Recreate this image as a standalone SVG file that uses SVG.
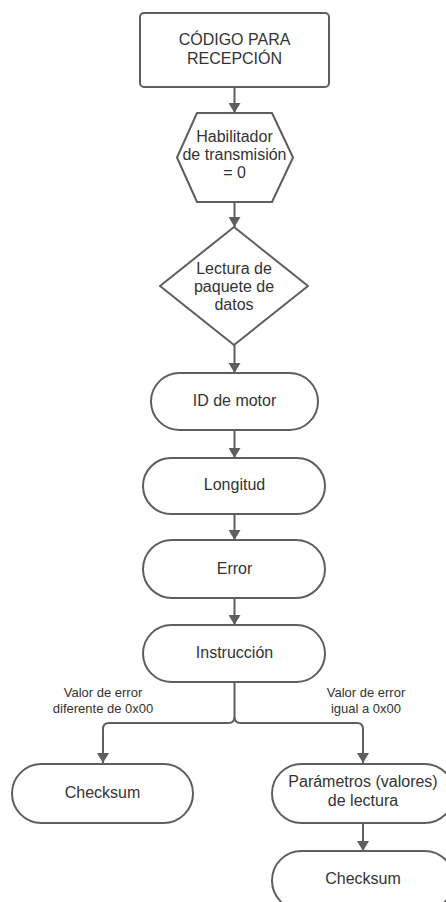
<svg xmlns="http://www.w3.org/2000/svg" width="446" height="902" viewBox="0 0 446 902">
  <defs>
    <marker id="arrow" viewBox="0 0 10 12" refX="10" refY="6" markerWidth="10" markerHeight="12" markerUnits="userSpaceOnUse" orient="auto">
      <path d="M0,0 L10,6 L0,12 Z" fill="#5e5e5e"/>
    </marker>
    <style>
      .shape { fill: #ffffff; stroke: #5e5e5e; stroke-width: 2; stroke-linejoin: round; }
      .edge { fill: none; stroke: #5e5e5e; stroke-width: 2; marker-end: url(#arrow); }
      .line { fill: none; stroke: #5e5e5e; stroke-width: 2; }
      .txt { font-family: "Liberation Sans", Arial, sans-serif; font-size: 16px; fill: #333333; text-anchor: middle; }
      .lbl { font-family: "Liberation Sans", Arial, sans-serif; font-size: 13px; fill: #333333; text-anchor: middle; }
    </style>
  </defs>
  <rect width="446" height="902" fill="#ffffff"/>

  <!-- connectors -->
  <g id="connectors">
    <path class="edge" d="M234.5,87 L234.5,113"/>
    <path class="edge" d="M234.5,202 L234.5,227"/>
    <path class="edge" d="M234.5,345 L234.5,373"/>
    <path class="edge" d="M234.5,430 L234.5,458"/>
    <path class="edge" d="M234.5,514 L234.5,540"/>
    <path class="edge" d="M234.5,598 L234.5,625"/>
    <path class="line" d="M234.5,682 L234.5,717 Q234.5,723 228.5,723 L109,723 Q103,723 103,729 L103,740"/>
    <path class="edge" d="M103,738 L103,763"/>
    <path class="line" d="M234.5,717 Q234.5,723 240.5,723 L357,723 Q363,723 363,729 L363,740"/>
    <path class="edge" d="M363,738 L363,763"/>
    <path class="edge" d="M363,823 L363,851"/>
    <text class="lbl" x="103" y="697">Valor de error</text>
    <text class="lbl" x="103" y="713">diferente de 0x00</text>
    <text class="lbl" x="366" y="697">Valor de error</text>
    <text class="lbl" x="366" y="713">igual a 0x00</text>
  </g>

  <!-- nodes -->
  <g id="start">
    <rect class="shape" x="140" y="13" width="189" height="74" rx="4"/>
    <text class="txt" x="234.5" y="45">CÓDIGO PARA</text>
    <text class="txt" x="234.5" y="63.5">RECEPCIÓN</text>
  </g>

  <g id="enable">
    <polygon class="shape" points="197,113 272,113 293,157.5 272,202 197,202 177,157.5"/>
    <text class="txt" x="234.5" y="142">Habilitador</text>
    <text class="txt" x="234.5" y="160">de transmisión</text>
    <text class="txt" x="234.5" y="178">= 0</text>
  </g>

  <g id="read-packet">
    <polygon class="shape" points="234,227 308,286 234,345 160,286"/>
    <text class="txt" x="234" y="274">Lectura de</text>
    <text class="txt" x="234" y="292">paquete de</text>
    <text class="txt" x="234" y="310">datos</text>
  </g>

  <g id="motor-id">
    <rect class="shape" x="151" y="373" width="167" height="57" rx="28.5"/>
    <text class="txt" x="234.5" y="406">ID de motor</text>
  </g>

  <g id="length">
    <rect class="shape" x="143" y="458" width="182" height="56" rx="28"/>
    <text class="txt" x="234.5" y="490">Longitud</text>
  </g>

  <g id="error">
    <rect class="shape" x="143" y="540" width="182" height="58" rx="29"/>
    <text class="txt" x="234.5" y="574">Error</text>
  </g>

  <g id="instruction">
    <rect class="shape" x="143" y="625" width="182" height="57" rx="28.5"/>
    <text class="txt" x="234.5" y="658">Instrucción</text>
  </g>

  <g id="checksum-left">
    <rect class="shape" x="12" y="764" width="181" height="59" rx="29.5"/>
    <text class="txt" x="102.5" y="798">Checksum</text>
  </g>

  <g id="parameters">
    <rect class="shape" x="272" y="764" width="182" height="59" rx="29.5"/>
    <text class="txt" x="363" y="787">Parámetros (valores)</text>
    <text class="txt" x="363" y="806">de lectura</text>
  </g>

  <g id="checksum-right">
    <rect class="shape" x="272" y="851" width="182" height="59" rx="29.5"/>
    <text class="txt" x="363" y="884">Checksum</text>
  </g>
</svg>
